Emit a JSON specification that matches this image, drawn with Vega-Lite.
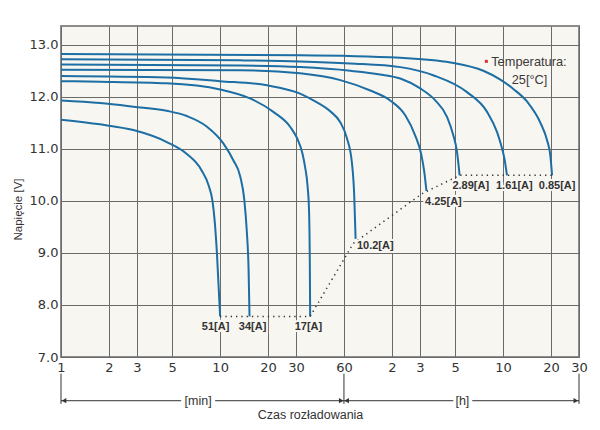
{
  "$schema": "https://vega.github.io/schema/vega-lite/v6.json",
  "width": 518,
  "height": 331,
  "autosize": {"type": "none"},
  "padding": {"left": 61, "top": 26, "right": 21, "bottom": 73},
  "background": "white",
  "config": {
    "view": {"fill": "#f8f6f1", "stroke": "#8c8c8c", "strokeWidth": 2},
    "font": "Liberation Sans"
  },
  "datasets": {
    "curves": [
      {"id": "51A", "t": 1, "v": 11.56}, {"id": "51A", "t": 1.76, "v": 11.47}, {"id": "51A", "t": 2.85, "v": 11.36},
      {"id": "51A", "t": 4.62, "v": 11.13}, {"id": "51A", "t": 6.18, "v": 10.9}, {"id": "51A", "t": 7.6, "v": 10.6},
      {"id": "51A", "t": 8.5, "v": 10.28}, {"id": "51A", "t": 8.95, "v": 10.0}, {"id": "51A", "t": 9.25, "v": 9.6},
      {"id": "51A", "t": 9.55, "v": 8.99}, {"id": "51A", "t": 10, "v": 7.78},

      {"id": "34A", "t": 1, "v": 11.93}, {"id": "34A", "t": 1.76, "v": 11.88}, {"id": "34A", "t": 2.85, "v": 11.81},
      {"id": "34A", "t": 4.62, "v": 11.73}, {"id": "34A", "t": 6.18, "v": 11.63}, {"id": "34A", "t": 8.23, "v": 11.43},
      {"id": "34A", "t": 10.5, "v": 11.1}, {"id": "34A", "t": 12.1, "v": 10.78}, {"id": "34A", "t": 13.4, "v": 10.46},
      {"id": "34A", "t": 14.2, "v": 10.01}, {"id": "34A", "t": 14.7, "v": 9.43}, {"id": "34A", "t": 15.1, "v": 8.66},
      {"id": "34A", "t": 15.3, "v": 7.78},

      {"id": "17A", "t": 1, "v": 12.3}, {"id": "17A", "t": 1.76, "v": 12.29}, {"id": "17A", "t": 4.62, "v": 12.26},
      {"id": "17A", "t": 10, "v": 12.14}, {"id": "17A", "t": 15.4, "v": 11.97}, {"id": "17A", "t": 21.6, "v": 11.71},
      {"id": "17A", "t": 27.6, "v": 11.42}, {"id": "17A", "t": 30.5, "v": 11.2}, {"id": "17A", "t": 32.8, "v": 10.93},
      {"id": "17A", "t": 34.2, "v": 10.65}, {"id": "17A", "t": 35.4, "v": 10.3}, {"id": "17A", "t": 36.2, "v": 9.82},
      {"id": "17A", "t": 36.6, "v": 8.86}, {"id": "17A", "t": 36.8, "v": 7.78},

      {"id": "10.2A", "t": 1, "v": 12.4}, {"id": "10.2A", "t": 4.62, "v": 12.37}, {"id": "10.2A", "t": 10, "v": 12.3},
      {"id": "10.2A", "t": 19.7, "v": 12.22}, {"id": "10.2A", "t": 31.8, "v": 12.06}, {"id": "10.2A", "t": 39.6, "v": 11.91},
      {"id": "10.2A", "t": 49.2, "v": 11.72}, {"id": "10.2A", "t": 56.9, "v": 11.51}, {"id": "10.2A", "t": 62.7, "v": 11.2},
      {"id": "10.2A", "t": 67.4, "v": 10.72}, {"id": "10.2A", "t": 69.6, "v": 10.11}, {"id": "10.2A", "t": 71, "v": 9.27},

      {"id": "4.25A", "t": 1, "v": 12.52}, {"id": "4.25A", "t": 13.4, "v": 12.51}, {"id": "4.25A", "t": 31.8, "v": 12.45},
      {"id": "4.25A", "t": 56.9, "v": 12.32}, {"id": "4.25A", "t": 87.8, "v": 12.12}, {"id": "4.25A", "t": 117, "v": 11.93},
      {"id": "4.25A", "t": 146, "v": 11.64}, {"id": "4.25A", "t": 168, "v": 11.26}, {"id": "4.25A", "t": 184, "v": 10.88},
      {"id": "4.25A", "t": 192, "v": 10.55}, {"id": "4.25A", "t": 198, "v": 10.19},

      {"id": "2.89A", "t": 1, "v": 12.62}, {"id": "2.89A", "t": 13.4, "v": 12.6}, {"id": "2.89A", "t": 31.8, "v": 12.57},
      {"id": "2.89A", "t": 65.7, "v": 12.5}, {"id": "2.89A", "t": 101, "v": 12.43}, {"id": "2.89A", "t": 135.6, "v": 12.35},
      {"id": "2.89A", "t": 181, "v": 12.16}, {"id": "2.89A", "t": 225, "v": 11.93}, {"id": "2.89A", "t": 267, "v": 11.61},
      {"id": "2.89A", "t": 292, "v": 11.26}, {"id": "2.89A", "t": 307, "v": 10.97}, {"id": "2.89A", "t": 320, "v": 10.49},

      {"id": "1.61A", "t": 1, "v": 12.72}, {"id": "1.61A", "t": 13.4, "v": 12.7}, {"id": "1.61A", "t": 31.8, "v": 12.68},
      {"id": "1.61A", "t": 65.7, "v": 12.64}, {"id": "1.61A", "t": 135.6, "v": 12.57}, {"id": "1.61A", "t": 220, "v": 12.41},
      {"id": "1.61A", "t": 356, "v": 12.09}, {"id": "1.61A", "t": 476, "v": 11.71}, {"id": "1.61A", "t": 550, "v": 11.32},
      {"id": "1.61A", "t": 577, "v": 11.12}, {"id": "1.61A", "t": 611, "v": 10.82}, {"id": "1.61A", "t": 635, "v": 10.49},

      {"id": "0.85A", "t": 1, "v": 12.82}, {"id": "0.85A", "t": 31.8, "v": 12.8}, {"id": "0.85A", "t": 135.6, "v": 12.75},
      {"id": "0.85A", "t": 280, "v": 12.66}, {"id": "0.85A", "t": 451, "v": 12.5}, {"id": "0.85A", "t": 577, "v": 12.33},
      {"id": "0.85A", "t": 696, "v": 12.15}, {"id": "0.85A", "t": 853, "v": 11.9}, {"id": "0.85A", "t": 1030, "v": 11.5},
      {"id": "0.85A", "t": 1135, "v": 11.16}, {"id": "0.85A", "t": 1189, "v": 10.87}, {"id": "0.85A", "t": 1219, "v": 10.49}
    ],
    "ends": [
      {"t": 10, "v": 7.78}, {"t": 36.8, "v": 7.78}, {"t": 68.6, "v": 9.18},
      {"t": 186, "v": 10.14}, {"t": 320, "v": 10.49}, {"t": 1219, "v": 10.49}
    ],
    "labels": [
      {"t": 9.36, "v": 7.57, "txt": "51[A]"},
      {"t": 16.0, "v": 7.57, "txt": "34[A]"},
      {"t": 35.9, "v": 7.58, "txt": "17[A]"},
      {"t": 94.4, "v": 9.14, "txt": "10.2[A]"},
      {"t": 253, "v": 9.98, "txt": "4.25[A]"},
      {"t": 376, "v": 10.29, "txt": "2.89[A]"},
      {"t": 706, "v": 10.29, "txt": "1.61[A]"},
      {"t": 1312, "v": 10.29, "txt": "0.85[A]"}
    ],
    "temp": [
      {"t": 872, "v": 12.67, "txt": "Temperatura:"},
      {"t": 880, "v": 12.33, "txt": "25[°C]"}
    ],
    "marker": [{"t": 471, "v": 12.68}],
    "dims": [
      {"t": 1, "t2": 5.69, "v": 6.16, "v2": 6.16},
      {"t": 9.3, "t2": 60, "v": 6.16, "v2": 6.16},
      {"t": 60, "t2": 292, "v": 6.16, "v2": 6.16},
      {"t": 384, "t2": 1800, "v": 6.16, "v2": 6.16},
      {"t": 1, "t2": 1, "v": 6.68, "v2": 6.1},
      {"t": 60, "t2": 60, "v": 6.68, "v2": 6.1},
      {"t": 1800, "t2": 1800, "v": 6.68, "v2": 6.1}
    ],
    "arrows": [
      {"t": 1.045, "v": 6.16, "s": "triangle-left"},
      {"t": 57.7, "v": 6.16, "s": "triangle-right"},
      {"t": 62.4, "v": 6.16, "s": "triangle-left"},
      {"t": 1720, "v": 6.16, "s": "triangle-right"}
    ],
    "units": [
      {"t": 7.27, "v": 6.16, "txt": "[min]"},
      {"t": 333, "v": 6.16, "txt": "[h]"}
    ]
  },
  "encoding": {
    "x": {
      "field": "t",
      "type": "quantitative",
      "scale": {"type": "log", "domain": [1, 1800], "nice": false},
      "axis": {
        "values": [1, 2, 3, 5, 10, 20, 30, 60, 120, 180, 300, 600, 1200, 1800],
        "labelExpr": "datum.value > 60 ? format(datum.value / 60, 'd') : format(datum.value, 'd')",
        "grid": true,
        "gridColor": "#6a6a6a",
        "gridWidth": 1,
        "ticks": false,
        "domain": false,
        "labelFont": "DejaVu Sans",
        "labelFontSize": 13,
        "labelColor": "#333333",
        "labelPadding": 4,
        "labelFlush": false,
        "labelOverlap": false,
        "title": "Czas rozładowania",
        "titleFont": "Liberation Sans",
        "titleFontSize": 12.5,
        "titleFontWeight": "normal",
        "titleColor": "#333333",
        "titleX": 249,
        "titleY": 51,
        "titleAlign": "center",
        "titleBaseline": "top"
      }
    },
    "y": {
      "field": "v",
      "type": "quantitative",
      "scale": {"domain": [7, 13.36], "nice": false, "zero": false},
      "axis": {
        "values": [7, 8, 9, 10, 11, 12, 13],
        "format": ".1f",
        "grid": true,
        "gridColor": "#6a6a6a",
        "gridWidth": 1,
        "ticks": false,
        "domain": false,
        "labelFont": "DejaVu Sans",
        "labelFontSize": 13,
        "labelColor": "#333333",
        "labelPadding": 3,
        "title": "Napięcie [V]",
        "titleFont": "Liberation Sans",
        "titleFontSize": 11.5,
        "titleFontWeight": "normal",
        "titleColor": "#333333",
        "titleAngle": 270,
        "titleX": -43,
        "titleY": 183,
        "titleAlign": "center",
        "titleBaseline": "middle"
      }
    }
  },
  "layer": [
    {
      "data": {"name": "curves"},
      "mark": {"type": "line", "interpolate": "monotone", "color": "#1c6ea4", "strokeWidth": 2},
      "encoding": {"detail": {"field": "id"}}
    },
    {
      "data": {"name": "ends"},
      "mark": {"type": "line", "color": "#333333", "strokeWidth": 1.5, "strokeDash": [1.3, 4]},
      "encoding": {}
    },
    {
      "data": {"name": "labels"},
      "mark": {"type": "text", "font": "Liberation Sans", "fontSize": 11, "fontWeight": "bold", "fill": "#f8f6f1", "stroke": "#f8f6f1", "strokeWidth": 4},
      "encoding": {"text": {"field": "txt"}}
    },
    {
      "data": {"name": "labels"},
      "mark": {"type": "text", "font": "Liberation Sans", "fontSize": 11, "fontWeight": "bold", "color": "#333333"},
      "encoding": {"text": {"field": "txt"}}
    },
    {
      "data": {"name": "temp"},
      "mark": {"type": "text", "font": "Liberation Sans", "fontSize": 12.8, "color": "#3a3a3a"},
      "encoding": {"text": {"field": "txt"}}
    },
    {
      "data": {"name": "marker"},
      "mark": {"type": "point", "shape": "square", "filled": true, "size": 9, "color": "#e03030", "opacity": 1}
    },
    {
      "data": {"name": "dims"},
      "mark": {"type": "rule", "color": "#333333", "strokeWidth": 1},
      "encoding": {"x2": {"field": "t2"}, "y2": {"field": "v2"}}
    },
    {
      "data": {"name": "arrows"},
      "mark": {"type": "point", "filled": true, "size": 28, "color": "#333333", "opacity": 1},
      "encoding": {"shape": {"field": "s", "type": "nominal", "scale": null}}
    },
    {
      "data": {"name": "units"},
      "mark": {"type": "text", "font": "Liberation Sans", "fontSize": 12.5, "color": "#333333"},
      "encoding": {"text": {"field": "txt"}}
    }
  ]
}
